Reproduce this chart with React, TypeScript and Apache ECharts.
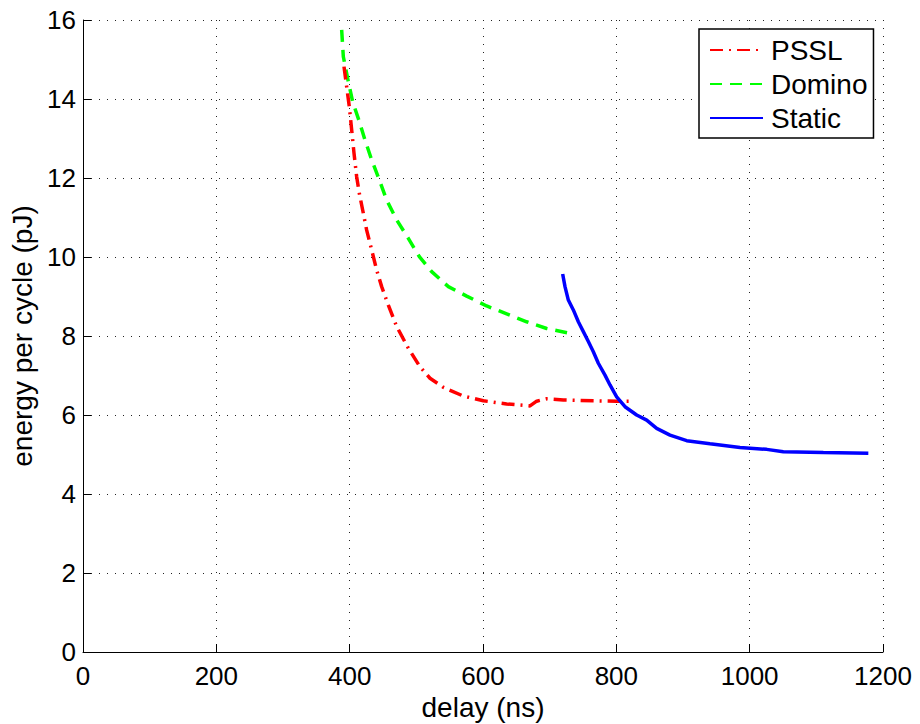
import React, { useEffect, useRef } from "react";
import * as echarts from "echarts";

// Energy per cycle versus delay for three logic styles
const psslDelay = [391.5, 395.5, 399.5, 403, 406.5, 410.5, 414.5, 419.5, 425.5, 433, 440.5, 448, 458, 470.5, 488, 505.5, 520.5, 540.5, 570.5, 600.5, 635.5, 670.5, 680.5, 695.5, 720.5, 765.5, 800.5, 824];
const psslEnergy = [14.82, 14.31, 13.8, 13.22, 12.63, 12.03, 11.61, 11.19, 10.68, 10.18, 9.67, 9.25, 8.78, 8.24, 7.69, 7.22, 6.93, 6.7, 6.48, 6.36, 6.28, 6.23, 6.35, 6.41, 6.38, 6.36, 6.35, 6.35];

const dominoDelay = [388, 390.5, 398, 404.5, 414.5, 423, 433, 444.5, 455.5, 470.5, 488, 504.5, 523, 548, 575.5, 605.5, 635.5, 665.5, 695.5, 735.5];
const dominoEnergy = [15.75, 15.07, 14.44, 13.93, 13.43, 12.96, 12.46, 11.95, 11.44, 10.94, 10.47, 10.01, 9.63, 9.25, 9.01, 8.76, 8.56, 8.36, 8.19, 8.05];

const staticDelay = [719.5, 723, 728, 735.5, 743, 750.5, 758, 765.5, 773, 783, 790.5, 800.5, 813, 830.5, 845.5, 860.5, 880.5, 905.5, 940.5, 985.5, 1025.5, 1050.5, 1110.5, 1178];
const staticEnergy = [9.57, 9.25, 8.91, 8.66, 8.36, 8.11, 7.86, 7.6, 7.31, 7.01, 6.76, 6.46, 6.21, 6.0, 5.87, 5.66, 5.49, 5.35, 5.27, 5.18, 5.13, 5.07, 5.05, 5.03];

const seriesNames = ["PSSL", "Domino", "Static"];

const zip = (xs: number[], ys: number[]) => xs.map((x, i) => [x, ys[i]]);

const FONT = "'Liberation Sans', Arial, Helvetica, sans-serif";

export default function App() {
  const ref = useRef<HTMLDivElement>(null);

  useEffect(() => {
    if (!ref.current) return;
    const chart = echarts.init(ref.current, null, { renderer: "svg" });

    const gridLine = { show: true, lineStyle: { color: "#222", width: 1, type: [1, 7] as number[] } };
    const axisCommon = {
      axisLine: { show: true, onZero: false, lineStyle: { color: "#000", width: 1 } },
      axisTick: { show: true, inside: true, length: 8, lineStyle: { color: "#000" } },
      splitLine: gridLine,
      nameTextStyle: { fontFamily: FONT, fontSize: 28, color: "#000" },
    };
    const plainNumber = (v: number) => String(v);

    chart.setOption({
      animation: false,
      backgroundColor: "#fff",
      textStyle: { fontFamily: FONT },
      grid: { left: 83, top: 20, width: 800, height: 632, containLabel: false, outerBoundsMode: "none" },
      xAxis: {
        type: "value",
        min: 0,
        max: 1200,
        interval: 200,
        name: "delay (ns)",
        nameLocation: "middle",
        nameGap: 37,
        ...axisCommon,
        axisLabel: { fontFamily: FONT, fontSize: 26, color: "#000", margin: 11, formatter: plainNumber },
      },
      yAxis: {
        type: "value",
        min: 0,
        max: 16,
        interval: 2,
        name: "energy per cycle (pJ)",
        nameLocation: "middle",
        nameGap: 39,
        ...axisCommon,
        axisLabel: { fontFamily: FONT, fontSize: 26, color: "#000", margin: 7, formatter: plainNumber },
      },
      legend: {
        orient: "vertical",
        left: 699,
        top: 29,
        padding: [7, 6, 6, 10],
        itemWidth: 53,
        itemHeight: 14,
        itemGap: 6,
        borderColor: "#000",
        borderWidth: 1.5,
        borderRadius: 0,
        backgroundColor: "#fff",
        data: seriesNames,
        itemStyle: { opacity: 0 },
        textStyle: { fontFamily: FONT, fontSize: 28, color: "#000", padding: [0, 0, 0, 3] },
      },
      series: [
        {
          name: seriesNames[0],
          type: "line",
          data: zip(psslDelay, psslEnergy),
          symbol: "none",
          lineStyle: { color: "#ff0000", width: 3.5, type: [13, 6, 2, 6] },
          itemStyle: { color: "#ff0000" },
          z: 3,
        },
        {
          name: seriesNames[1],
          type: "line",
          data: zip(dominoDelay, dominoEnergy),
          symbol: "none",
          lineStyle: { color: "#00ff00", width: 3.5, type: [12, 8] },
          itemStyle: { color: "#00ff00" },
          z: 2,
        },
        {
          name: seriesNames[2],
          type: "line",
          data: zip(staticDelay, staticEnergy),
          symbol: "none",
          lineStyle: { color: "#0000ff", width: 3.5, type: "solid" },
          itemStyle: { color: "#0000ff" },
          z: 4,
        },
      ],
    });

    return () => chart.dispose();
  }, []);

  return (
    <div
      ref={ref}
      style={{ position: "fixed", left: 0, top: 0, width: 920, height: 724, background: "#fff" }}
    />
  );
}
